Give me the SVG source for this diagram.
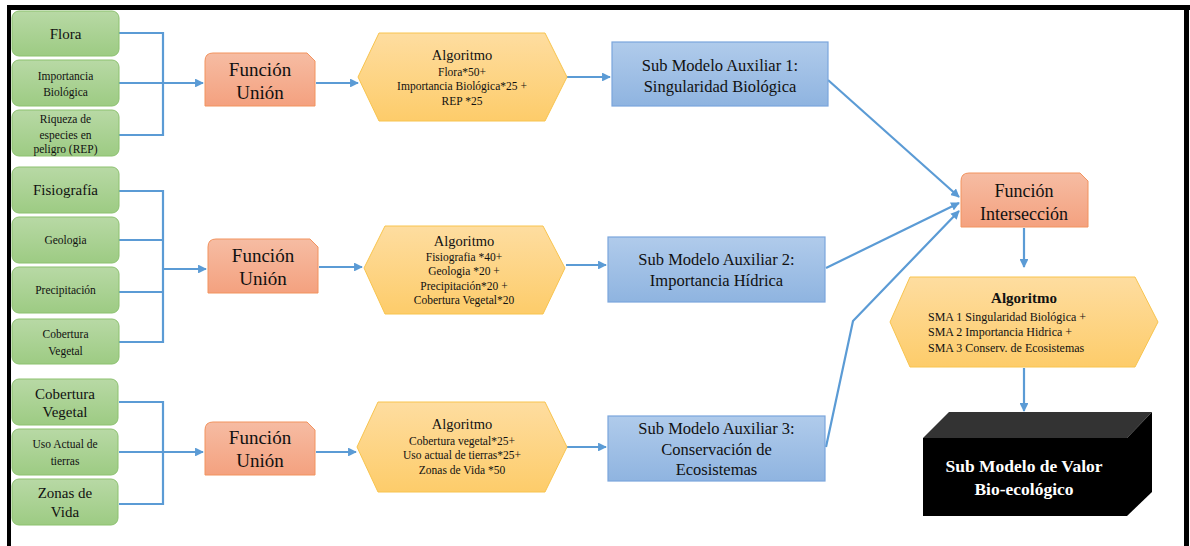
<svg xmlns="http://www.w3.org/2000/svg" width="1190" height="546" viewBox="0 0 1190 546">
<defs>
<linearGradient id="gGreen" x1="0" y1="0" x2="0" y2="1"><stop offset="0" stop-color="#b8d9a5"/><stop offset="1" stop-color="#9dcb83"/></linearGradient>
<linearGradient id="gOrange" x1="0" y1="0" x2="0" y2="1"><stop offset="0" stop-color="#f6bca3"/><stop offset="1" stop-color="#f4a17f"/></linearGradient>
<linearGradient id="gYellow" x1="0" y1="0" x2="0" y2="1"><stop offset="0" stop-color="#fedda0"/><stop offset="1" stop-color="#fdcc6a"/></linearGradient>
<linearGradient id="gBlue" x1="0" y1="0" x2="0" y2="1"><stop offset="0" stop-color="#b0cbeb"/><stop offset="1" stop-color="#8fb4e0"/></linearGradient>
<marker id="arr" viewBox="0 0 10 10" refX="9" refY="5" markerWidth="4" markerHeight="4" orient="auto"><path d="M0,0 L10,5 L0,10 z" fill="#5b9bd5"/></marker>
</defs>
<style>
.g{fill:url(#gGreen);stroke:#8cc16f;stroke-width:1}
.o{fill:url(#gOrange);stroke:#f2935f;stroke-width:1}
.y{fill:url(#gYellow);stroke:#f8c44e;stroke-width:1}
.b{fill:url(#gBlue);stroke:#7ba6dc;stroke-width:1.2}
text{font-family:'Liberation Serif','Times New Roman','DejaVu Serif',serif;fill:#111}
.t{text-anchor:middle}
.w{fill:#fff;font-weight:bold;text-anchor:middle}
.c{fill:none;stroke:#5b9bd5;stroke-width:2.2}
.ca{fill:none;stroke:#5b9bd5;stroke-width:2.2;marker-end:url(#arr)}
</style>
<rect width="1190" height="546" fill="#fff"/>
<g id="frame">
<line x1="7" y1="7.5" x2="1190" y2="7.5" stroke="#000" stroke-width="5"/>
<line x1="9" y1="5" x2="9" y2="546" stroke="#000" stroke-width="4"/>
<line x1="1186.5" y1="5" x2="1186.5" y2="546" stroke="#000" stroke-width="5"/>
</g>
<g id="connectors">
<polyline class="c" points="119,33 163,33 163,135 119,135"/>
<line class="ca" x1="119" y1="83" x2="203" y2="83"/>
<line class="ca" x1="316" y1="83" x2="358" y2="83"/>
<polyline class="c" points="119,191 163,191 163,342 119,342"/>
<line class="c" x1="119" y1="240" x2="163" y2="240"/>
<line class="c" x1="119" y1="292" x2="163" y2="292"/>
<line class="ca" x1="163" y1="269" x2="206" y2="269"/>
<line class="ca" x1="319" y1="267" x2="362" y2="267"/>
<polyline class="c" points="119,402 163,402 163,504 119,504"/>
<line class="ca" x1="119" y1="452" x2="203" y2="452"/>
<line class="ca" x1="316" y1="452" x2="356" y2="452"/>
<line class="ca" x1="567" y1="77" x2="610" y2="77"/>
<line class="ca" x1="566" y1="265" x2="606" y2="265"/>
<line class="ca" x1="567" y1="447" x2="606" y2="447"/>
<line class="ca" x1="828" y1="80" x2="959" y2="197"/>
<line class="ca" x1="826" y1="268" x2="959" y2="203"/>
<polyline class="ca" points="826,447 853,321 959,211"/>
<line class="ca" x1="1024" y1="228" x2="1024" y2="267"/>
<line class="ca" x1="1024" y1="368" x2="1024" y2="411"/>
</g>
<g id="flora"><rect class="g" x="12" y="11" width="107" height="45" rx="7"/><text class="t" x="65.5" y="39" font-size="15">Flora</text></g>
<g id="importancia"><rect class="g" x="12" y="60" width="107" height="46" rx="7"/><text class="t" x="65.5" y="80" font-size="11.5">Importancia</text><text class="t" x="65.5" y="96" font-size="11.5">Biológica</text></g>
<g id="riqueza"><rect class="g" x="12" y="110" width="107" height="46" rx="7"/><text class="t" x="65.5" y="123" font-size="11.5">Riqueza de</text><text class="t" x="65.5" y="139" font-size="11.5">especies en</text><text class="t" x="65.5" y="153" font-size="11.5">peligro (REP)</text></g>
<g id="fisiografia"><rect class="g" x="12" y="167" width="107" height="46" rx="7"/><text class="t" x="65.5" y="195" font-size="15">Fisiografía</text></g>
<g id="geologia"><rect class="g" x="12" y="217" width="107" height="46" rx="7"/><text class="t" x="65.5" y="244" font-size="11.5">Geologia</text></g>
<g id="precipitacion"><rect class="g" x="12" y="267" width="107" height="46" rx="7"/><text class="t" x="65.5" y="294" font-size="11.5">Precipitación</text></g>
<g id="cobertura1"><rect class="g" x="12" y="319" width="107" height="45" rx="7"/><text class="t" x="65.5" y="338" font-size="11.5">Cobertura</text><text class="t" x="65.5" y="355" font-size="11.5">Vegetal</text></g>
<g id="cobertura2"><rect class="g" x="12" y="379" width="106" height="46" rx="7"/><text class="t" x="65" y="399" font-size="15">Cobertura</text><text class="t" x="65" y="417" font-size="15">Vegetal</text></g>
<g id="uso"><rect class="g" x="12" y="429" width="106" height="46" rx="7"/><text class="t" x="65" y="448" font-size="11.5">Uso Actual  de</text><text class="t" x="65" y="465" font-size="11.5">tierras</text></g>
<g id="zonas"><rect class="g" x="12" y="479" width="106" height="46" rx="7"/><text class="t" x="65" y="498" font-size="15">Zonas de</text><text class="t" x="65" y="517" font-size="15">Vida</text></g>
<g id="union1"><path class="o" d="M213,53 L307,53 L315,61 L315,106 L205,106 L205,61 Q205,53 213,53 Z"/><text class="t" x="260" y="76" font-size="19">Función</text><text class="t" x="260" y="99" font-size="19">Unión</text></g>
<g id="union2"><path class="o" d="M216,239 L310,239 L318,247 L318,293 L208,293 L208,247 Q208,239 216,239 Z"/><text class="t" x="263" y="262" font-size="19">Función</text><text class="t" x="263" y="285" font-size="19">Unión</text></g>
<g id="union3"><path class="o" d="M213,422 L307,422 L315,430 L315,475 L205,475 L205,430 Q205,422 213,422 Z"/><text class="t" x="260" y="444" font-size="19">Función</text><text class="t" x="260" y="467" font-size="19">Unión</text></g>
<g id="algoritmo1"><polygon class="y" points="358,77 379,33 545,33 567,77 545,121 379,121"/><text class="t" x="462" y="60" font-size="14.5">Algoritmo</text><text class="t" x="462" y="76" font-size="11.5">Flora*50+</text><text class="t" x="462" y="90" font-size="11.5">Importancia Biológica*25  +</text><text class="t" x="462" y="105" font-size="11.5">REP *25</text></g>
<g id="algoritmo2"><polygon class="y" points="364,268 385,226 543,226 565,268 543,314 385,314"/><text class="t" x="464" y="246" font-size="14.5">Algoritmo</text><text class="t" x="464" y="261" font-size="11.5">Fisiografia  *40+</text><text class="t" x="464" y="275" font-size="11.5">Geologia  *20 +</text><text class="t" x="464" y="290" font-size="11.5">Precipitación*20  +</text><text class="t" x="464" y="304" font-size="11.5">Cobertura Vegetal*20</text></g>
<g id="algoritmo3"><polygon class="y" points="357,447 378,402 545,402 567,447 545,492 378,492"/><text class="t" x="462" y="429" font-size="14.5">Algoritmo</text><text class="t" x="462" y="445" font-size="11.5">Cobertura vegetal*25+</text><text class="t" x="462" y="459" font-size="11.5">Uso actual de tierras*25+</text><text class="t" x="462" y="474" font-size="11.5">Zonas de Vida *50</text></g>
<g id="sma1"><rect class="b" x="612" y="42" width="216" height="64"/><text class="t" x="720" y="71" font-size="16.5">Sub Modelo Auxiliar  1:</text><text class="t" x="720" y="92" font-size="16.5">Singularidad  Biológica</text></g>
<g id="sma2"><rect class="b" x="608" y="237" width="217" height="65"/><text class="t" x="716.5" y="265" font-size="16.5">Sub Modelo Auxiliar  2:</text><text class="t" x="716.5" y="286" font-size="16.5">Importancia  Hídrica</text></g>
<g id="sma3"><rect class="b" x="608" y="416" width="217" height="65"/><text class="t" x="716.5" y="434" font-size="16.5">Sub Modelo Auxiliar  3:</text><text class="t" x="716.5" y="455" font-size="16.5">Conservación  de</text><text class="t" x="716.5" y="475" font-size="16.5">Ecosistemas</text></g>
<g id="interseccion"><path class="o" d="M969,173 L1080,173 L1088,181 L1088,227 L961,227 L961,181 Q961,173 969,173 Z"/><text class="t" x="1024" y="197" font-size="18">Función</text><text class="t" x="1024" y="220" font-size="18">Intersección</text></g>
<g id="algoritmoFinal"><polygon class="y" points="890,322 910,277 1135,277 1158,322 1135,367 910,367"/><text class="t" x="1024" y="303" font-size="15" font-weight="bold">Algoritmo</text><text x="928" y="321" font-size="12">SMA 1 Singularidad  Biológica  +</text><text x="928" y="336" font-size="12">SMA 2 Importancia  Hidrica  +</text><text x="928" y="352" font-size="12">SMA 3 Conserv.  de Ecosistemas</text></g>
<g id="valor">
<polygon points="923,438 949,412 1152,412 1127,438" fill="#333"/>
<polygon points="1127,438 1152,412 1152,492 1127,516" fill="#000"/>
<rect x="923" y="438" width="204" height="78" fill="#000"/>
<text class="w" x="1024" y="472" font-size="17.5">Sub Modelo de Valor</text>
<text class="w" x="1024" y="495" font-size="17.5">Bio-ecológico</text>
</g>
</svg>
